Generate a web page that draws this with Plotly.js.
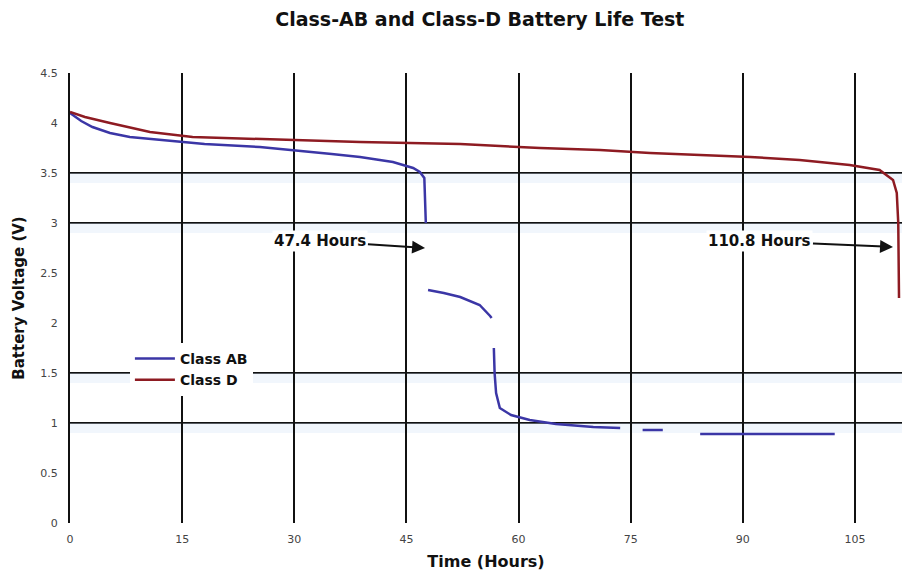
<!DOCTYPE html>
<html>
<head>
<meta charset="utf-8">
<script src="https://cdn.plot.ly/plotly-3.0.1.min.js"></script>
<style>html,body{margin:0;padding:0;background:#fff;}#chart{width:902px;height:583px;}</style>
</head>
<body>
<div id="chart"></div>
<script>
// Class AB series (hours, volts); null marks gaps seen in the reference
const hoursAB = [0, 1.5, 3, 5.35, 8, 12, 18, 25.4, 29.8, 35, 38.8, 43.2, 45.9, 46.8, 47.4, 47.6, 47.75, 47.9, 50, 52.2, 54.8, 56.2, 56.4, 56.55, 56.7, 56.8, 57.0, 57.5, 59, 61.5, 65, 70, 73.6, 75, 76.6, 79.3, 82, 84.3, 95, 102.3];
const voltsAB = [4.10, 4.02, 3.96, 3.90, 3.86, 3.83, 3.79, 3.76, 3.73, 3.69, 3.66, 3.61, 3.55, 3.51, 3.45, 3.00, null, 2.33, 2.30, 2.26, 2.18, 2.07, 2.05, null, 1.75, 1.50, 1.30, 1.15, 1.08, 1.03, 0.99, 0.96, 0.95, null, 0.93, 0.93, null, 0.89, 0.89, 0.89];

// Class D series
const hoursD = [0, 2, 5.35, 10.7, 16.4, 25.4, 38.8, 52.2, 58, 62.9, 70.9, 77.6, 84.3, 91, 97.6, 104.3, 108.3, 110.1, 110.6, 110.8, 110.9];
const voltsD = [4.11, 4.06, 4.00, 3.91, 3.86, 3.84, 3.81, 3.79, 3.77, 3.75, 3.73, 3.70, 3.68, 3.66, 3.63, 3.58, 3.53, 3.43, 3.30, 3.00, 2.25];

// Axis ticks
const xTicks = [0, 15, 30, 45, 60, 75, 90, 105];
const yTicks = [0, 0.5, 1, 1.5, 2, 2.5, 3, 3.5, 4, 4.5];
const yTickLabels = ['0', '0.5', '1', '1.5', '2', '2.5', '3', '3.5', '4', '4.5'];
// Horizontal reference lines drawn in black
const refLevels = [1, 1.5, 3, 3.5];

// Annotations: end-of-life times
const lifeLabels = ['47.4 Hours', '110.8 Hours'];
const lifeHours = [47.5, 110.1];
const lifeVolts = [2.75, 2.76];
const labelHours = [33.5, 92.3];
const labelVolts = [2.82, 2.82];

const font = 'DejaVu Sans, Arial, sans-serif';

const traces = [
  {x: hoursAB, y: voltsAB, name: '<b>Class AB</b>', mode: 'lines', connectgaps: false,
   line: {color: '#3b36a6', width: 2.5}},
  {x: hoursD, y: voltsD, name: '<b>Class D</b>', mode: 'lines', connectgaps: false,
   line: {color: '#8e1b22', width: 2.5}}
];

const shapes = refLevels.map(v => ({
  type: 'line', xref: 'paper', x0: 0, x1: 1, yref: 'y', y0: v, y1: v,
  line: {color: '#111', width: 2.2}, layer: 'below'
}));
refLevels.forEach(v => shapes.push({
  type: 'rect', xref: 'paper', x0: 0, x1: 1, yref: 'y', y0: v - 0.1, y1: v,
  fillcolor: 'rgba(215,230,245,0.35)', line: {width: 0}, layer: 'below'
}));

const annotations = lifeLabels.map((t, i) => ({
  text: '<b>' + t + '</b>', x: lifeHours[i], y: lifeVolts[i], xref: 'x', yref: 'y',
  ax: labelHours[i], ay: labelVolts[i], axref: 'x', ayref: 'y',
  showarrow: true, arrowhead: 2, arrowsize: 1.3, arrowwidth: 2, arrowcolor: '#111',
  font: {family: font, size: 15, color: '#111'}, bgcolor: '#fff'
}));

const layout = {
  width: 902, height: 583,
  margin: {l: 70, r: 0, t: 73, b: 60},
  paper_bgcolor: '#fff', plot_bgcolor: '#fff',
  title: {text: '<b>Class-AB and Class-D Battery Life Test</b>', x: 0.532, xanchor: 'center', y: 0.978,
          font: {family: font, size: 19, color: '#111'}},
  xaxis: {range: [0, 111.3], tickvals: xTicks, ticktext: xTicks.map(String),
          showgrid: true, gridcolor: '#111', gridwidth: 2, zeroline: false,
          showline: false, ticks: '', ticklabelstandoff: 8, tickfont: {family: font, size: 11, color: '#444'},
          title: {text: '<b>Time (Hours)</b>', font: {family: font, size: 16, color: '#111'}, standoff: 10}},
  yaxis: {range: [0, 4.5], tickvals: yTicks, ticktext: yTickLabels,
          showgrid: false, zeroline: false, showline: true, linecolor: '#111', linewidth: 2,
          ticks: '', ticklabelstandoff: 8, tickfont: {family: font, size: 11, color: '#444'},
          title: {text: '<b>Battery Voltage (V)</b>', font: {family: font, size: 15, color: '#111'}, standoff: 12}},
  legend: {x: 0.072, y: 0.40, xanchor: 'left', yanchor: 'top', bgcolor: '#fff',
           font: {family: font, size: 14, color: '#111'}, itemwidth: 40, tracegroupgap: 8},
  shapes: shapes,
  annotations: annotations
};

Plotly.newPlot('chart', traces, layout, {displayModeBar: false, staticPlot: true});
</script>
</body>
</html>
